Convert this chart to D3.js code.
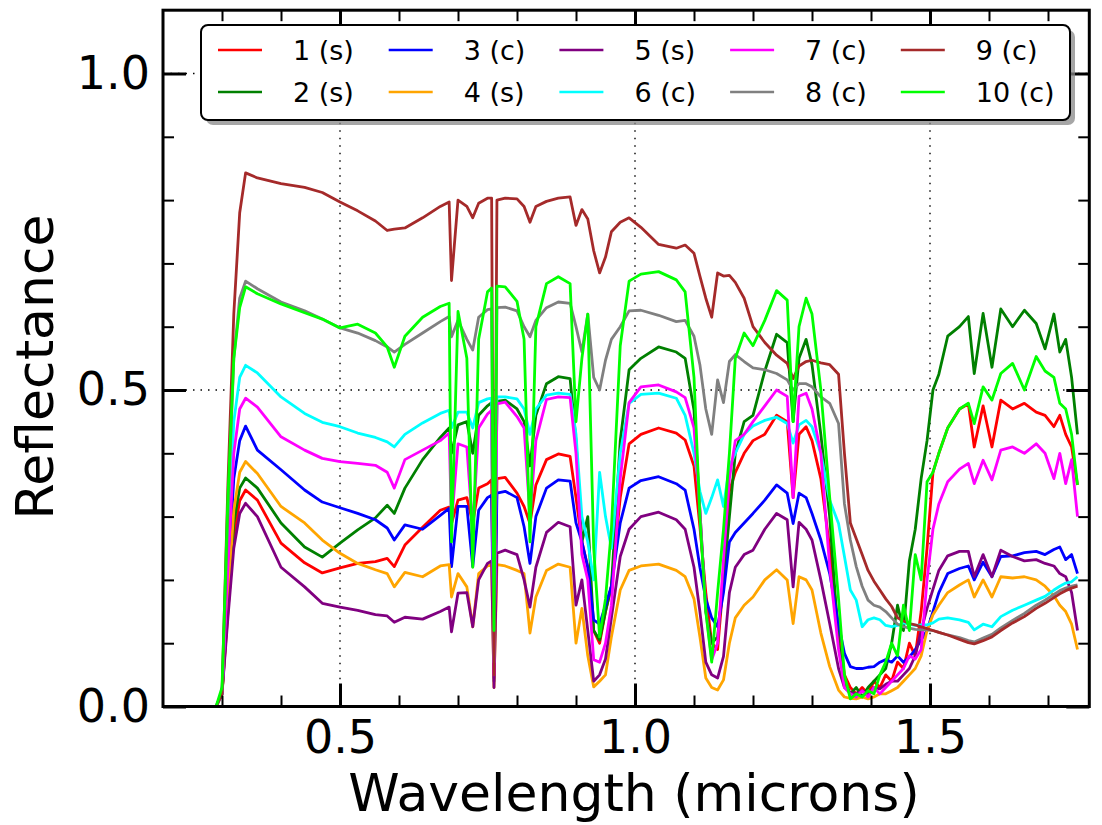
<!DOCTYPE html>
<html><head><meta charset="utf-8">
<script src="https://cdn.jsdelivr.net/npm/d3@7"></script>
<style>body{margin:0;background:#fff}svg{display:block}</style>
</head><body>
<svg id="c" width="1102" height="825"></svg>
<script>
const wavelengths = [0.20,0.29,0.30,0.31,0.32,0.33,0.34,0.36,0.40,0.44,
 0.47,0.50,0.53,0.56,0.58,0.592,0.61,0.64,0.67,0.685,
 0.689,0.70,0.715,0.725,0.735,0.75,0.757,0.761,0.766,0.78,
 0.80,0.812,0.822,0.832,0.85,0.87,0.89,0.90,0.91,0.92,
 0.93,0.94,0.95,0.96,0.975,0.99,1.01,1.04,1.07,1.085,
 1.10,1.11,1.12,1.13,1.14,1.15,1.16,1.17,1.185,1.20,
 1.22,1.24,1.258,1.268,1.278,1.29,1.30,1.315,1.33,1.345,
 1.355,1.365,1.375,1.385,1.395,1.405,1.415,1.425,1.435,1.445,
 1.455,1.465,1.475,1.485,1.495,1.505,1.515,1.53,1.55,1.565,
 1.575,1.59,1.605,1.62,1.64,1.66,1.68,1.695,1.71,1.72,
 1.73,1.74,1.75];

const s1 = [0,0,.02,.15,.27,.325,.342,.326,.258,.227,
 .211,.219,.226,.229,.234,.221,.255,.283,.31,.315,
 .289,.326,.33,.29,.345,.352,.358,.045,.36,.362,
 .337,.316,.289,.35,.39,.399,.395,.33,.26,.22,
 .12,.10,.15,.19,.33,.415,.43,.44,.432,.421,
 .38,.284,.18,.10,.09,.20,.34,.37,.40,.42,
 .43,.46,.45,.33,.43,.442,.42,.36,.25,.12,
 .05,.03,.02,.03,.02,.04,.03,.05,.04,.07,
 .06,.10,.08,.15,.25,.37,.40,.44,.47,.478,
 .41,.475,.41,.484,.47,.479,.465,.46,.442,.46,
 .43,.41,.35];
const s2 = [0,0,.02,.16,.29,.345,.361,.345,.29,.252,
 .236,.258,.279,.298,.318,.305,.345,.39,.425,.44,
 .40,.445,.45,.40,.46,.475,.48,.06,.482,.484,
 .47,.45,.38,.46,.51,.521,.518,.42,.26,.30,
 .12,.105,.15,.19,.42,.532,.55,.568,.56,.55,
 .468,.31,.15,.10,.11,.20,.30,.40,.45,.46,
 .53,.588,.575,.45,.55,.58,.54,.43,.30,.10,
 .04,.02,.03,.015,.03,.04,.05,.06,.10,.16,
 .12,.23,.28,.36,.42,.50,.525,.585,.60,.616,
 .526,.621,.536,.628,.60,.626,.605,.565,.62,.56,
 .58,.52,.43];
const s3 = [0,0,.02,.20,.36,.42,.443,.405,.374,.342,
 .323,.314,.305,.295,.282,.263,.287,.28,.302,.313,
 .221,.316,.316,.221,.31,.33,.334,.04,.337,.34,
 .33,.284,.226,.30,.345,.358,.356,.29,.26,.22,
 .137,.13,.16,.19,.29,.345,.357,.363,.352,.342,
 .28,.22,.17,.14,.126,.18,.26,.275,.29,.305,
 .326,.35,.337,.289,.337,.33,.305,.263,.21,.13,
 .084,.063,.06,.06,.062,.063,.07,.074,.07,.08,
 .07,.078,.09,.105,.12,.15,.18,.21,.218,.222,
 .20,.228,.205,.237,.238,.243,.245,.24,.248,.252,
 .232,.24,.21];
const s4 = [0,0,.02,.17,.31,.37,.387,.368,.316,.29,
 .263,.242,.226,.216,.21,.189,.212,.205,.222,.224,
 .173,.21,.189,.126,.21,.222,.224,.03,.224,.222,
 .215,.21,.116,.173,.215,.225,.22,.10,.155,.08,
 .031,.04,.05,.11,.184,.215,.222,.225,.215,.205,
 .17,.11,.045,.03,.026,.042,.10,.14,.16,.173,
 .2,.216,.2,.131,.205,.2,.184,.116,.063,.026,
 .015,.013,.012,.015,.012,.015,.02,.02,.025,.03,
 .04,.05,.06,.08,.12,.145,.16,.18,.192,.2,
 .173,.2,.173,.205,.203,.205,.2,.19,.175,.16,
 .15,.13,.09];
const s5 = [0,0,.02,.14,.25,.305,.321,.30,.22,.189,
 .163,.157,.152,.145,.143,.133,.141,.138,.15,.157,
 .118,.179,.18,.126,.20,.226,.23,.03,.242,.247,
 .24,.20,.157,.22,.275,.291,.284,.16,.20,.12,
 .04,.05,.075,.14,.237,.28,.30,.307,.295,.28,
 .22,.15,.07,.05,.045,.079,.18,.22,.24,.247,
 .28,.305,.295,.189,.291,.28,.263,.20,.131,.06,
 .03,.022,.02,.025,.02,.03,.028,.035,.04,.04,
 .05,.06,.08,.12,.155,.185,.215,.238,.245,.245,
 .205,.24,.205,.247,.237,.23,.232,.226,.222,.21,
 .205,.18,.12];
const s6 = [0,0,.02,.25,.45,.52,.539,.527,.489,.463,
 .449,.442,.432,.425,.418,.41,.43,.448,.463,.468,
 .44,.465,.465,.44,.48,.486,.487,.07,.489,.489,
 .486,.47,.43,.47,.492,.495,.493,.43,.30,.26,
 .20,.37,.30,.25,.40,.479,.493,.495,.487,.46,
 .40,.34,.305,.33,.358,.316,.379,.40,.43,.443,
 .452,.457,.447,.416,.445,.452,.442,.40,.326,.289,
 .237,.184,.168,.126,.137,.14,.137,.128,.126,.128,
 .132,.13,.128,.129,.129,.132,.138,.14,.137,.133,
 .121,.13,.126,.142,.152,.16,.168,.174,.184,.19,
 .195,.197,.205];
const s7 = [0,0,.02,.22,.40,.47,.487,.473,.426,.405,
 .392,.387,.384,.381,.37,.345,.39,.405,.42,.432,
 .29,.415,.41,.28,.44,.462,.468,.05,.478,.481,
 .458,.44,.30,.42,.485,.489,.488,.40,.24,.20,
 .074,.07,.10,.16,.36,.48,.505,.508,.497,.488,
 .44,.31,.152,.074,.10,.232,.36,.42,.43,.45,
 .475,.50,.49,.33,.49,.495,.47,.40,.22,.09,
 .03,.02,.015,.025,.015,.03,.02,.03,.04,.05,
 .06,.08,.075,.09,.20,.28,.32,.355,.375,.384,
 .352,.389,.358,.405,.41,.40,.415,.40,.36,.40,
 .352,.39,.30];
const s8 = [0,0,.02,.30,.55,.645,.672,.66,.639,.625,
 .612,.598,.59,.578,.568,.56,.572,.59,.608,.616,
 .584,.61,.58,.563,.615,.627,.628,.08,.63,.631,
 .625,.60,.584,.61,.63,.639,.637,.60,.56,.62,
 .52,.50,.547,.58,.60,.625,.626,.618,.608,.61,
 .585,.54,.47,.43,.516,.48,.545,.556,.545,.535,
 .532,.526,.516,.50,.51,.51,.505,.489,.479,.447,
 .32,.263,.221,.19,.168,.16,.157,.15,.14,.13,
 .126,.124,.122,.121,.121,.12,.117,.113,.109,.104,
 .102,.108,.114,.124,.136,.147,.16,.168,.177,.183,
 .187,.19,.192];
const s9 = [0,0,.02,.35,.62,.78,.843,.835,.826,.82,
 .812,.797,.783,.767,.752,.754,.756,.772,.79,.797,
 .673,.80,.79,.772,.795,.803,.803,.05,.80,.803,
 .802,.79,.765,.79,.798,.803,.805,.76,.785,.77,
 .72,.685,.71,.75,.765,.772,.757,.73,.724,.729,
 .716,.68,.645,.615,.685,.68,.681,.67,.645,.60,
 .575,.555,.542,.518,.538,.545,.547,.543,.54,.525,
 .40,.29,.265,.24,.215,.198,.184,.17,.158,.14,
 .135,.131,.129,.126,.123,.12,.117,.113,.106,.101,
 .099,.104,.11,.12,.132,.142,.155,.163,.172,.178,
 .183,.187,.19];
const s10 = [0,0,.03,.33,.55,.63,.663,.652,.636,.622,
 .612,.598,.604,.59,.568,.536,.585,.615,.632,.637,
 .26,.624,.55,.22,.58,.655,.661,.12,.664,.663,
 .64,.58,.26,.60,.668,.679,.668,.45,.55,.62,
 .25,.11,.17,.28,.57,.672,.683,.687,.674,.655,
 .52,.30,.15,.07,.18,.28,.40,.55,.59,.57,
 .61,.657,.642,.45,.60,.645,.62,.50,.33,.17,
 .05,.012,.02,.015,.025,.02,.05,.07,.10,.08,
 .16,.12,.24,.20,.355,.37,.40,.44,.47,.479,
 .447,.505,.484,.526,.542,.50,.553,.53,.52,.479,
 .47,.43,.35];

const seriesNames = ["1 (s)","2 (s)","3 (c)","4 (s)","5 (s)","6 (c)","7 (c)","8 (c)","9 (c)","10 (c)"];
const seriesColors = ["#ff0000","#008000","#0000ff","#ffa500","#800080","#00ffff","#ff00ff","#808080","#a52a2a","#00ff00"];
const seriesValues = [s1,s2,s3,s4,s5,s6,s7,s8,s9,s10];

const xMajorTicks = [0.5,1.0,1.5];
const xTickLabels = ["0.5","1.0","1.5"];
const xMinorTicks = [0.3,0.4,0.6,0.7,0.8,0.9,1.1,1.2,1.3,1.4,1.6,1.7];
const yMajorTicks = [0.0,0.5,1.0];
const yTickLabels = ["0.0","0.5","1.0"];
const yMinorTicks = [0.1,0.2,0.3,0.4,0.6,0.7,0.8,0.9];
const xTitle = "Wavelength (microns)";
const yTitle = "Reflectance";

const L = 163, R = 1089.3, T = 10.2, B = 706.5;
const FONT = "DejaVu Sans";
const svg = d3.select("#c");
const x = d3.scaleLinear().domain([0.2,1.77]).range([L,R]);
const y = d3.scaleLinear().domain([0,1.1]).range([B,T]);

// grid
const grid = svg.append("g").attr("stroke","#000").attr("stroke-width",1.4).attr("stroke-dasharray","1.5,6");
grid.selectAll("line.gx").data(xMajorTicks).enter().append("line")
  .attr("x1",d=>x(d)).attr("x2",d=>x(d)).attr("y1",T).attr("y2",B);
grid.selectAll("line.gy").data(yMajorTicks.filter(d=>d>0)).enter().append("line")
  .attr("x1",L).attr("x2",R).attr("y1",d=>y(d)).attr("y2",d=>y(d));

// lines
const line = d3.line().x(d=>x(d[0])).y(d=>y(d[1]));
const lg = svg.append("g");
seriesValues.forEach((vals,i)=>{
  const pts = wavelengths.map((w,j)=>[w,vals[j]]);
  lg.append("path").attr("d",line(pts)).attr("fill","none")
    .attr("stroke",seriesColors[i]).attr("stroke-width",2.8)
    .attr("stroke-linejoin","round");
});

// axes
function styleAxis(g, major){
  g.select(".domain").remove();
  g.selectAll(".tick line").attr("stroke","#000").attr("stroke-width", major?3:2);
  g.selectAll("text").attr("font-family",FONT).attr("font-size",46).attr("fill","#000");
}
const xb = svg.append("g").attr("transform",`translate(0,${B})`)
  .call(d3.axisBottom(x).tickValues(xMajorTicks).tickSizeInner(-23).tickSizeOuter(0).tickPadding(14)
    .tickFormat((d,i)=>xTickLabels[i]));
styleAxis(xb,true);
const xbm = svg.append("g").attr("transform",`translate(0,${B})`)
  .call(d3.axisBottom(x).tickValues(xMinorTicks).tickSizeInner(-11).tickSizeOuter(0).tickFormat(""));
styleAxis(xbm,false);
const xt = svg.append("g").attr("transform",`translate(0,${T})`)
  .call(d3.axisTop(x).tickValues(xMajorTicks).tickSizeInner(-23).tickSizeOuter(0).tickFormat(""));
styleAxis(xt,true);
const xtm = svg.append("g").attr("transform",`translate(0,${T})`)
  .call(d3.axisTop(x).tickValues(xMinorTicks).tickSizeInner(-11).tickSizeOuter(0).tickFormat(""));
styleAxis(xtm,false);
const yl = svg.append("g").attr("transform",`translate(${L},0)`)
  .call(d3.axisLeft(y).tickValues(yMajorTicks).tickSizeInner(-23).tickSizeOuter(0).tickPadding(13)
    .tickFormat((d,i)=>yTickLabels[i]));
styleAxis(yl,true);
const ylm = svg.append("g").attr("transform",`translate(${L},0)`)
  .call(d3.axisLeft(y).tickValues(yMinorTicks).tickSizeInner(-11).tickSizeOuter(0).tickFormat(""));
styleAxis(ylm,false);
const yr = svg.append("g").attr("transform",`translate(${R},0)`)
  .call(d3.axisRight(y).tickValues(yMajorTicks).tickSizeInner(-23).tickSizeOuter(0).tickFormat(""));
styleAxis(yr,true);
const yrm = svg.append("g").attr("transform",`translate(${R},0)`)
  .call(d3.axisRight(y).tickValues(yMinorTicks).tickSizeInner(-11).tickSizeOuter(0).tickFormat(""));
styleAxis(yrm,false);

// frame
svg.append("rect").attr("x",L).attr("y",T).attr("width",R-L).attr("height",B-T)
  .attr("fill","none").attr("stroke","#000").attr("stroke-width",3);

// titles
svg.append("text").attr("x",634).attr("y",811).attr("text-anchor","middle")
  .attr("font-family",FONT).attr("font-size",52).text(xTitle);
svg.append("text").attr("transform","translate(53,367) rotate(-90)").attr("text-anchor","middle")
  .attr("font-family",FONT).attr("font-size",52).text(yTitle);

// legend
const legX = 201, legY = 25, legW = 869, legH = 95;
svg.append("rect").attr("x",legX+5).attr("y",legY+5).attr("width",legW).attr("height",legH)
  .attr("rx",7).attr("fill","#888").attr("opacity",0.75);
svg.append("rect").attr("x",legX).attr("y",legY).attr("width",legW).attr("height",legH)
  .attr("rx",7).attr("fill","#fff").attr("stroke","#000").attr("stroke-width",2);
const leg = svg.append("g");
seriesNames.forEach((n,i)=>{
  const col = Math.floor(i/2), row = i%2;
  const lx = 218 + col*170.7, ly = row===0 ? 50 : 92;
  leg.append("line").attr("x1",lx).attr("x2",lx+44).attr("y1",ly).attr("y2",ly)
    .attr("stroke",seriesColors[i]).attr("stroke-width",2.5);
  leg.append("text").attr("x",lx+75).attr("y",ly).attr("dy","0.36em")
    .attr("font-family",FONT).attr("font-size",27).text(n);
});
</script>
</body></html>
